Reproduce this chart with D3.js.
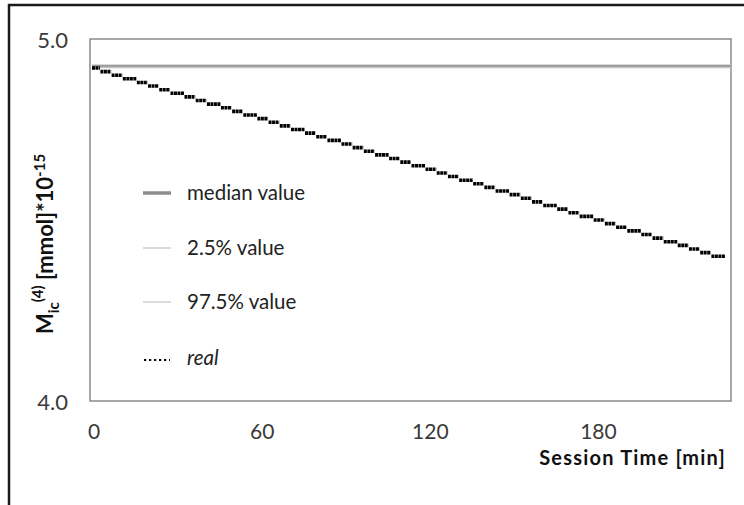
<!DOCTYPE html>
<html>
<head>
<meta charset="utf-8">
<script src="https://cdn.jsdelivr.net/npm/d3@7"></script>
<style>
  body { margin: 0; background: #fff; }
  svg { display: block; font-family: Lato, "Open Sans", sans-serif; }
</style>
</head>
<body>
<svg width="744" height="505"></svg>
<script>
const width = 744;
const height = 505;

// data
const xTicks = [0, 60, 120, 180];
const yTicks = [4.0, 5.0];
const bandTime = [0, 228];
const medianValue = [4.924, 4.924];
const p025Value = [4.921, 4.921];
const p975Value = [4.928, 4.928];

// "real" series: start time of each plateau and its value (staircase)
const realTime = [0, 3, 7, 11, 16, 20, 24, 28, 33, 37, 41, 46, 50, 54, 59, 63, 67, 71,
    76, 80, 84, 89, 93, 97, 101, 106, 110, 114, 119, 123, 127, 131, 136, 140, 144,
    149, 153, 157, 161, 166, 170, 174, 179, 183, 187, 191, 196, 200, 204, 209, 213,
    217, 221];
const realEnd = 226;
const realValue = [4.92, 4.91, 4.90, 4.89, 4.88, 4.87, 4.86, 4.85, 4.84, 4.83, 4.82,
    4.81, 4.80, 4.79, 4.78, 4.77, 4.76, 4.75, 4.74, 4.73, 4.72, 4.71, 4.70, 4.69,
    4.68, 4.67, 4.66, 4.65, 4.64, 4.63, 4.62, 4.61, 4.60, 4.59, 4.58, 4.57, 4.56,
    4.55, 4.54, 4.53, 4.52, 4.51, 4.50, 4.49, 4.48, 4.47, 4.46, 4.45, 4.44, 4.43,
    4.42, 4.41, 4.40];

const legendItems = [
    {label: "median value", color: "#8c8c8c", w: 3.5, italic: false},
    {label: "2.5% value", color: "#cfcfcf", w: 1.5, italic: false},
    {label: "97.5% value", color: "#cfcfcf", w: 1.5, italic: false},
    {label: "real", color: "#000", w: 2.5, italic: true, dotted: true}
];

const plot = {left: 90, top: 39, right: 731, bottom: 401};

const svg = d3.select("svg");

svg.append("rect").attr("width", width).attr("height", height).attr("fill", "#fff");

// outer (cropped) frame
svg.append("line").attr("x1", 8).attr("x2", width).attr("y1", 5).attr("y2", 5)
    .attr("stroke", "#1a1a1a").attr("stroke-width", 2.5);
svg.append("line").attr("x1", 9).attr("x2", 9).attr("y1", 4).attr("y2", height)
    .attr("stroke", "#1a1a1a").attr("stroke-width", 2.5);

const x = d3.scaleLinear().domain([0, 228]).range([92, plot.right]);
const y = d3.scaleLinear().domain([4.0, 5.0]).range([plot.bottom, plot.top]);

// plot frame
svg.append("rect")
    .attr("x", plot.left).attr("y", plot.top)
    .attr("width", plot.right - plot.left).attr("height", plot.bottom - plot.top)
    .attr("fill", "none").attr("stroke", "#8a8a8a").attr("stroke-width", 1.5);

// y tick labels
svg.selectAll(".ytick").data(yTicks).join("text")
    .attr("x", 68).attr("y", d => y(d) + 1).attr("dy", "0.35em")
    .attr("text-anchor", "end").attr("font-size", 22).attr("fill", "#3a3a3a")
    .text(d => d3.format(".1f")(d));

// x tick labels
svg.selectAll(".xtick").data(xTicks).join("text")
    .attr("x", d => x(d) + 2).attr("y", 439)
    .attr("text-anchor", "middle").attr("font-size", 21).attr("fill", "#3a3a3a")
    .text(d => d);

// axis titles
svg.append("text")
    .attr("x", 726).attr("y", 465)
    .attr("text-anchor", "end").attr("font-size", 20).attr("font-weight", "bold")
    .attr("letter-spacing", 1.2)
    .attr("fill", "#111")
    .text("Session Time [min]");

const yt = svg.append("text")
    .attr("transform", "translate(53,244) rotate(-90)")
    .attr("text-anchor", "middle").attr("font-size", 22).attr("font-weight", "bold")
    .attr("fill", "#111");
yt.append("tspan").text("M");
yt.append("tspan").attr("font-size", 15).attr("dy", 6).text("ic");
yt.append("tspan").attr("font-size", 15).attr("dy", -16).text("(4)");
yt.append("tspan").attr("dy", 10).text(" [mmol]*10");
yt.append("tspan").attr("font-size", 15).attr("dy", -8).text("-15");

// band lines
const line = d3.line().x(d => x(d[0])).y(d => y(d[1]));
const band = (vals, color, w) => svg.append("path")
    .datum(bandTime.map((t, i) => [t, vals[i]]))
    .attr("d", line).attr("fill", "none")
    .attr("stroke", color).attr("stroke-width", w);
band(p975Value, "#cfcfcf", 1.5);
band(medianValue, "#9a9a9a", 3);
band(p025Value, "#c4c4c4", 1.5);

// real staircase, drawn as dotted plateaus
svg.append("g").selectAll("line").data(realValue).join("line")
    .attr("x1", (d, i) => x(realTime[i]))
    .attr("x2", (d, i) => x(i + 1 < realTime.length ? realTime[i + 1] : realEnd) - 0.5)
    .attr("y1", d => y(d)).attr("y2", d => y(d))
    .attr("stroke", "#000").attr("stroke-width", 3.6)
    .attr("stroke-dasharray", "3,0.5");

// legend
const lg = svg.append("g").attr("transform", "translate(143,0)");
const legendY = [193, 248, 302, 358];
legendItems.forEach((it, i) => {
    const yy = legendY[i];
    if (it.dotted) {
        lg.append("line").attr("x1", 1).attr("x2", 27).attr("y1", yy + 2).attr("y2", yy + 2)
            .attr("stroke", "#000").attr("stroke-width", 2.2)
            .attr("stroke-dasharray", "2.2,2.8");
    } else {
        lg.append("line").attr("x1", 0).attr("x2", 28).attr("y1", yy).attr("y2", yy)
            .attr("stroke", it.color).attr("stroke-width", it.w);
    }
    lg.append("text")
        .attr("x", 44).attr("y", yy).attr("dy", "0.35em")
        .attr("font-size", 20.5).attr("fill", "#222")
        .attr("font-style", it.italic ? "italic" : "normal")
        .text(it.label);
});
</script>
</body>
</html>
